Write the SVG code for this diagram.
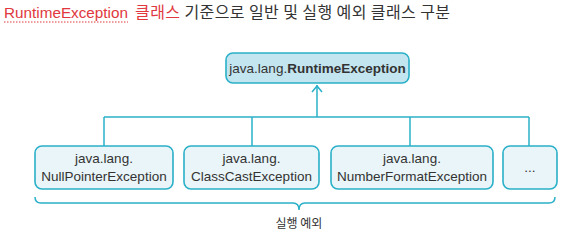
<svg xmlns="http://www.w3.org/2000/svg" width="567" height="245" viewBox="0 0 567 245">
<defs>
<style>
.box{stroke:#2ab0c8;stroke-width:1.6}
.top{fill:#c3e5ef}
.sub{fill:#e9f5f8}
.lbl{font-family:"Liberation Sans",Arial,sans-serif;font-size:13.5px;fill:#333;text-anchor:middle}
.conn{stroke:#2ab0c8;stroke-width:1.5;fill:none}
</style>
</defs>
<rect width="567" height="245" fill="#fff"/>
<text x="4" y="18" font-family="'Liberation Sans','Noto Sans CJK KR',sans-serif" font-size="15" fill="#e0383e" textLength="124" lengthAdjust="spacingAndGlyphs">RuntimeException</text>
<text x="135" y="18" font-family="'Noto Sans CJK KR',sans-serif" font-size="16" fill="#333" textLength="315" lengthAdjust="spacing"><tspan fill="#e0383e">클래스</tspan> 기준으로 일반 및 실행 예외 클래스 구분</text>
<line x1="4" y1="22" x2="128" y2="22" stroke="#e0383e" stroke-width="1" stroke-dasharray="1.5,1.5"/>
<g id="connectors">
<line class="conn" x1="317" y1="85" x2="317" y2="117"/>
<polyline class="conn" points="312,92 317,86 322,92"/>
<line class="conn" x1="104" y1="117" x2="529" y2="117"/>
<line class="conn" x1="104" y1="117" x2="104" y2="146"/>
<line class="conn" x1="252" y1="117" x2="252" y2="146"/>
<line class="conn" x1="410" y1="117" x2="410" y2="146"/>
<line class="conn" x1="529" y1="117" x2="529" y2="146"/>
</g>
<g id="runtime">
<rect class="box top" x="226" y="53" width="183" height="30" rx="7"/>
<text class="lbl" x="317.5" y="73"><tspan>java.lang.</tspan><tspan font-weight="bold">RuntimeException</tspan></text>
</g>
<g id="npe">
<rect class="box sub" x="35" y="146" width="138" height="43" rx="7"/>
<text class="lbl" x="104" y="163">java.lang.</text>
<text class="lbl" x="104" y="181">NullPointerException</text>
</g>
<g id="cce">
<rect class="box sub" x="184" y="146" width="135" height="43" rx="7"/>
<text class="lbl" x="251.5" y="163">java.lang.</text>
<text class="lbl" x="251.5" y="181">ClassCastException</text>
</g>
<g id="nfe">
<rect class="box sub" x="331" y="146" width="162" height="43" rx="7"/>
<text class="lbl" x="412" y="163">java.lang.</text>
<text class="lbl" x="412" y="181">NumberFormatException</text>
</g>
<g id="more">
<rect class="box sub" x="503" y="146" width="54" height="43" rx="7"/>
<text class="lbl" x="530" y="172">...</text>
</g>
<g id="brace">
<path class="conn" d="M35,197 Q35,203 41,203 L293,203 Q299,203 299,210 Q299,203 305,203 L549,203 Q555,203 555,197"/>
<text x="299" y="228" font-family="'Noto Sans CJK KR',sans-serif" font-size="12" fill="#333" text-anchor="middle">실행 예외</text>
</g>
</svg>
